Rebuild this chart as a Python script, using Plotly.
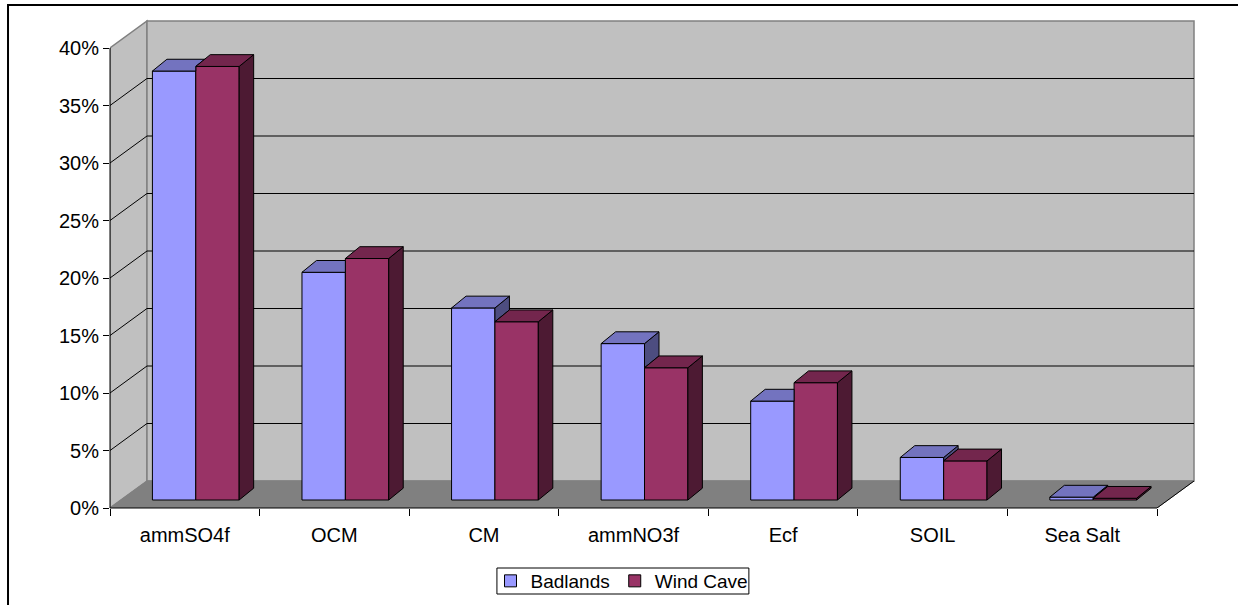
import plotly.graph_objects as go

# ---- data -------------------------------------------------------------
categories = ["ammSO4f", "OCM", "CM", "ammNO3f", "Ecf", "SOIL", "Sea Salt"]
badlands = [37.3, 19.8, 16.7, 13.6, 8.6, 3.7, 0.25]
wind_cave = [37.7, 21.0, 15.5, 11.5, 10.2, 3.4, 0.15]
series_names = ["Badlands", "Wind Cave"]
y_ticks = [0, 5, 10, 15, 20, 25, 30, 35, 40]
y_tick_text = [f"{v}%" for v in y_ticks]

# ---- styling ----------------------------------------------------------
FRONT = ["#9999FF", "#993366"]
TOP = ["#7373BF", "#73264D"]
SIDE = ["#4D4D80", "#4D1A33"]
WALL = "#C0C0C0"
FLOOR = "#808080"
EDGE = "#808080"
FONT = dict(family="Liberation Sans, Arial, sans-serif", size=20, color="black")
LEGEND_FONT = dict(FONT, size=19)

W, H = 1238, 605
PX_CAT = 149.6      # pixels per category
PX_PCT = 11.5       # pixels per percent
AXIS_LEFT = 110     # pixel column of the front value axis
AXIS_BOTTOM = 508   # pixel row of the front category axis
PAD = 3             # spare pixels right/top so wall edges are not clipped

# oblique depth of the walls, bar front plane and bar depth (data units)
WDX, WDY = 37 / PX_CAT, 27 / PX_PCT
BFX, BFY = 11 / PX_CAT, 8 / PX_PCT
BDX, BDY = 14.5 / PX_CAT, 11.8 / PX_PCT
BAR_W = 0.29

n = len(categories)
y_top = y_ticks[-1]
x_lo, x_hi = -0.5, n - 0.5 + WDX + PAD / PX_CAT
y_lo, y_hi = 0.0, y_top + WDY + PAD / PX_PCT
plot_w = (x_hi - x_lo) * PX_CAT
plot_h = (y_hi - y_lo) * PX_PCT
m_l = AXIS_LEFT
m_b = H - AXIS_BOTTOM
m_r = W - m_l - plot_w
m_t = H - m_b - plot_h


def px_x(px):
    return (px - m_l) / plot_w


def px_y(py):
    return (H - m_b - py) / plot_h


def poly(pts):
    return "M " + " L ".join(f"{x:.5f},{y:.5f}" for x, y in pts) + " Z"


fig = go.Figure()
for k, (name, vals) in enumerate(zip(series_names, [badlands, wind_cave])):
    fig.add_trace(go.Bar(
        x=list(range(n)), y=vals, name=name,
        xaxis="x2", yaxis="y2", offsetgroup=str(k),
        marker=dict(color=FRONT[k], line=dict(color="black", width=1)),
        hovertemplate="%{y}%<extra>" + name + "</extra>",
    ))

shapes = []

# side wall, back wall and floor of the 3-D box
left, right = -0.5, n - 0.5
shapes.append(dict(type="path", xref="x", yref="y", layer="below",
                   path=poly([(left, 0), (left, y_top), (left + WDX, y_top + WDY), (left + WDX, WDY)]),
                   fillcolor=WALL, line=dict(color=EDGE, width=1.5)))
shapes.append(dict(type="rect", xref="x", yref="y", layer="below",
                   x0=left + WDX, x1=right + WDX, y0=WDY, y1=y_top + WDY,
                   fillcolor=WALL, line=dict(color=EDGE, width=1.5)))
shapes.append(dict(type="path", xref="x", yref="y", layer="below",
                   path=poly([(left, 0), (right, 0), (right + WDX, WDY), (left + WDX, WDY)]),
                   fillcolor=FLOOR, line=dict(color=EDGE, width=1)))
shapes.append(dict(type="line", xref="x", yref="y", layer="below",
                   x0=right, y0=0, x1=right + WDX, y1=WDY,
                   line=dict(color="black", width=1)))

# gridlines on back wall and side wall
for v in y_ticks[1:-1]:
    shapes.append(dict(type="line", xref="x", yref="y", layer="below",
                       x0=left + WDX, x1=right + WDX, y0=v + WDY, y1=v + WDY,
                       line=dict(color="black", width=1)))
    shapes.append(dict(type="line", xref="x", yref="y", layer="below",
                       x0=left, x1=left + WDX, y0=v, y1=v + WDY,
                       line=dict(color="black", width=1)))

# tops and sides of the bars, hidden parts removed
for i in range(n):
    b, w = badlands[i], wind_cave[i]
    x0, x1, x2 = i - BAR_W, i, i + BAR_W
    if b > w:
        shapes.append(dict(type="path", xref="x2", yref="y2", layer="above",
                           path=poly([(x1, w), (x1, b), (x1 + BDX, b + BDY), (x1 + BDX, w + BDY)]),
                           fillcolor=SIDE[0], line=dict(color="black", width=1)))
    hc = min(max(w, b), b + BDY)
    shapes.append(dict(type="path", xref="x2", yref="y2", layer="above",
                       path=poly([(x0, b), (x1, b), (x1, hc),
                                  (x1 + (b + BDY - hc) * BDX / BDY, b + BDY),
                                  (x0 + BDX, b + BDY)]),
                       fillcolor=TOP[0], line=dict(color="black", width=1)))
    shapes.append(dict(type="path", xref="x2", yref="y2", layer="above",
                       path=poly([(x2, 0), (x2, w), (x2 + BDX, w + BDY), (x2 + BDX, BDY)]),
                       fillcolor=SIDE[1], line=dict(color="black", width=1)))
    shapes.append(dict(type="path", xref="x2", yref="y2", layer="above",
                       path=poly([(x1, w), (x2, w), (x2 + BDX, w + BDY), (x1 + BDX, w + BDY)]),
                       fillcolor=TOP[1], line=dict(color="black", width=1)))

# front axis lines
shapes.append(dict(type="line", xref="paper", yref="paper", layer="above",
                   x0=0, x1=0, y0=0, y1=(y_top - y_lo) / (y_hi - y_lo),
                   line=dict(color="black", width=1)))
shapes.append(dict(type="line", xref="paper", yref="paper", layer="above",
                   x0=0, x1=(right - x_lo) / (x_hi - x_lo), y0=0, y1=0,
                   line=dict(color="black", width=1)))

# legend frame
shapes.append(dict(type="rect", xref="paper", yref="paper", layer="above",
                   x0=px_x(497), x1=px_x(749), y0=px_y(594), y1=px_y(568),
                   fillcolor="rgba(0,0,0,0)", line=dict(color="black", width=1)))

# chart frame
shapes.append(dict(type="rect", xref="paper", yref="paper", layer="above",
                   x0=px_x(8), x1=px_x(W + 40), y0=px_y(H + 40), y1=px_y(5),
                   fillcolor="rgba(0,0,0,0)", line=dict(color="black", width=2)))

fig.update_layout(
    template="none",
    width=W, height=H,
    margin=dict(l=m_l, r=m_r, t=m_t, b=m_b, pad=0, autoexpand=False),
    paper_bgcolor="white", plot_bgcolor="rgba(0,0,0,0)",
    font=FONT,
    barmode="group", bargap=1 - 2 * BAR_W, bargroupgap=0,
    shapes=shapes,
    showlegend=True,
    legend=dict(orientation="h", xref="container", yref="container",
                x=622 / W, xanchor="center",
                y=(H - 581) / H, yanchor="middle",
                borderwidth=0, bgcolor="rgba(0,0,0,0)",
                font=LEGEND_FONT, traceorder="normal"),
    xaxis=dict(range=[x_lo, x_hi], tickmode="array", tickvals=list(range(n)),
               ticktext=categories, ticks="", showgrid=False, zeroline=False,
               showline=False, automargin=False, tickfont=FONT,
               ticklabelstandoff=13,
               minor=dict(tickmode="array", tickvals=[j - 0.5 for j in range(n + 1)],
                          ticks="outside", ticklen=7, tickcolor="black",
                          tickwidth=1, showgrid=False)),
    yaxis=dict(range=[y_lo, y_hi], tickmode="array", tickvals=y_ticks,
               ticktext=y_tick_text, ticks="outside", ticklen=6,
               tickcolor="black", tickwidth=1, showgrid=False, zeroline=False,
               showline=False, automargin=False, tickfont=FONT),
    xaxis2=dict(overlaying="x", anchor="y2", range=[x_lo - BFX, x_hi - BFX],
                visible=False, showgrid=False, zeroline=False),
    yaxis2=dict(overlaying="y", anchor="x2", range=[y_lo - BFY, y_hi - BFY],
                visible=False, showgrid=False, zeroline=False),
)

fig.write_html("out.html")
